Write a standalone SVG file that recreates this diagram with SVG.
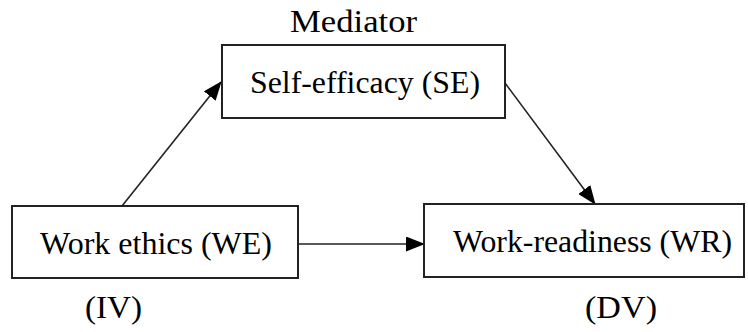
<svg xmlns="http://www.w3.org/2000/svg" width="748" height="332" viewBox="0 0 748 332">
<defs>
<marker id="ah" markerWidth="19" markerHeight="15" refX="18" refY="7.5" orient="auto" markerUnits="userSpaceOnUse">
<path d="M0,0 L19,7.5 L0,15 Z" fill="#000"/>
</marker>
<style>
.box{fill:#fff;stroke:#222;stroke-width:2}
.t{font-family:'Liberation Serif','Times New Roman',serif;font-size:31px;fill:#000}
.c{fill:none;stroke:#222;stroke-width:1.6;marker-end:url(#ah)}
</style>
</defs>
<rect width="748" height="332" fill="#fff"/>
<text class="t" x="290" y="32" textLength="127" lengthAdjust="spacingAndGlyphs">Mediator</text>
<g id="connectors">
<line class="c" x1="122" y1="206" x2="221" y2="82"/>
<line class="c" x1="505" y1="83" x2="595" y2="204"/>
<line class="c" x1="298" y1="244" x2="424" y2="244"/>
</g>
<g id="se">
<rect class="box" x="222" y="45" width="283" height="73"/>
<text class="t" x="250" y="93" textLength="230" lengthAdjust="spacingAndGlyphs">Self-efficacy (SE)</text>
</g>
<g id="we">
<rect class="box" x="12" y="206" width="286" height="72"/>
<text class="t" x="40" y="254" textLength="232" lengthAdjust="spacingAndGlyphs">Work ethics (WE)</text>
</g>
<g id="wr">
<rect class="box" x="424" y="204" width="320" height="73"/>
<text class="t" x="453" y="252" textLength="279" lengthAdjust="spacingAndGlyphs">Work-readiness (WR)</text>
</g>
<text class="t" x="85" y="318" textLength="57" lengthAdjust="spacingAndGlyphs">(IV)</text>
<text class="t" x="585" y="318" textLength="72" lengthAdjust="spacingAndGlyphs">(DV)</text>
</svg>
